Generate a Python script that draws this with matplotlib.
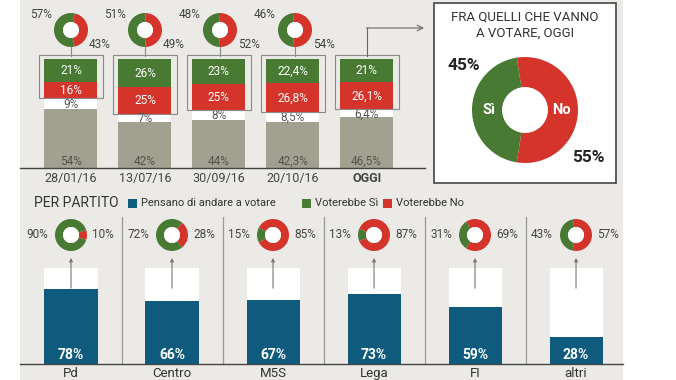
import matplotlib
matplotlib.use('Agg')
import matplotlib.pyplot as plt
from matplotlib.patches import Rectangle, Circle

# ---------------- data ----------------
dates = ['28/01/16', '13/07/16', '30/09/16', '20/10/16', 'OGGI']
non_voters = [54, 42, 44, 42.3, 46.5]      # grey
undecided = [9, 7, 8, 8.5, 6.4]            # white
vote_no = [16, 25, 25, 26.8, 26.1]         # red
vote_yes = [21, 26, 23, 22.4, 21]          # green
donut_yes = [57, 51, 48, 46]
donut_no = [43, 49, 52, 54]
final_yes = 45
final_no = 55

parties = ['Pd', 'Centro', 'M5S', 'Lega', 'FI', 'altri']
turnout = [78, 66, 67, 73, 59, 28]
party_yes = [90, 72, 15, 13, 31, 43]
party_no = [10, 28, 85, 87, 69, 57]

# ---------------- style ----------------
GREEN = '#487a34'
RED = '#d5342b'
GREY = '#a2a091'
BLUE = '#0f5b7d'
BG = '#ebeae6'
TXT = '#444444'
FONT = ['Roboto', 'DejaVu Sans']
plt.rcParams['font.family'] = FONT

W, H = 676, 380
fig = plt.figure(figsize=(W / 100, H / 100), dpi=100)
fig.patch.set_facecolor('white')
fig.patches.append(Rectangle((20 / W, 0), 603 / W, 1, transform=fig.transFigure,
                             facecolor=BG, edgecolor='none', zorder=0))


def px_axes(x0, y0, x1, y1, z=1):
    ax = fig.add_axes([x0 / W, 1 - y1 / H, (x1 - x0) / W, (y1 - y0) / H], zorder=z)
    ax.patch.set_alpha(0)
    return ax


def pixel_layer(z):
    ax = px_axes(0, 0, W, H, z=z)
    ax.set_xlim(0, W)
    ax.set_ylim(H, 0)
    ax.axis('off')
    return ax


def fmt(v):
    return f"{v:g}".replace('.', ',') + '%'


def donut(cx, cy, r, no, yes, width):
    ax = px_axes(cx - r, cy - r, cx + r, cy + r, z=3)
    ax.pie([no, yes], colors=[RED, GREEN], startangle=no / 100 * 180,
           counterclock=False, radius=1,
           wedgeprops=dict(width=width, edgecolor='none'))
    ax.add_patch(Circle((0, 0), 1 - width, facecolor='white', edgecolor='none'))
    ax.set_xlim(-1, 1)
    ax.set_ylim(-1, 1)
    ax.set_aspect('equal')
    ax.axis('off')
    return ax


under = pixel_layer(0.5)   # below everything (big white box)
ov = pixel_layer(5)        # free text on top

# ---------------- top stacked bars ----------------
axt = px_axes(20, 59, 425, 168, z=2)
n = len(dates)
xs = list(range(n))
bw = 0.717
axt.bar(xs, non_voters, width=bw, color=GREY)
b1 = [a for a in non_voters]
axt.bar(xs, undecided, bottom=b1, width=bw, color='white')
b2 = [a + b for a, b in zip(non_voters, undecided)]
axt.bar(xs, vote_no, bottom=b2, width=bw, color=RED)
b3 = [a + b for a, b in zip(b2, vote_no)]
axt.bar(xs, vote_yes, bottom=b3, width=bw, color=GREEN)
axt.set_xlim(-0.69, 4.79)
axt.set_ylim(0, 100)
for s in ['top', 'left', 'right']:
    axt.spines[s].set_visible(False)
axt.spines['bottom'].set_color('#444444')
axt.spines['bottom'].set_linewidth(1)
axt.set_yticks([])
axt.set_xticks(xs)
axt.set_xticklabels(dates)
axt.tick_params(axis='x', length=0, pad=3, labelsize=9, labelcolor=TXT)
for lab in axt.get_xticklabels():
    if lab.get_text() == 'OGGI':
        lab.set_fontweight('bold')

for i in xs:
    axt.text(i, 6, fmt(non_voters[i]), ha='center', va='center', fontsize=8.5, color='#555548')
    axt.text(i, b1[i] + undecided[i] / 2, fmt(undecided[i]), ha='center', va='center',
             fontsize=8.5, color='#555555')
    axt.text(i, b2[i] + vote_no[i] / 2, fmt(vote_no[i]), ha='center', va='center',
             fontsize=8.5, color='white')
    axt.text(i, b3[i] + vote_yes[i] / 2, fmt(vote_yes[i]), ha='center', va='center',
             fontsize=8.5, color='white')
    # frame around yes+no
    axt.add_patch(Rectangle((i - bw / 2 - 0.075, b2[i] + 1), bw + 0.15, 100 + 3.7 - b2[i] - 1,
                            facecolor='none', edgecolor='#8a8a8a', lw=0.8, clip_on=False, zorder=4))

# top donuts
top_cx = [71, 145, 220, 295]
for i in range(len(donut_yes)):
    cx, cy = top_cx[i], 30
    donut(cx, cy, 17, donut_no[i], donut_yes[i], 0.53)
    ov.text(cx - 30, cy - 15, fmt(donut_yes[i]), ha='center', va='center', fontsize=8.5, color=TXT)
    ov.text(cx + 29, cy + 14, fmt(donut_no[i]), ha='center', va='center', fontsize=8.5, color=TXT)
    ov.plot([cx, cx], [47, 55.5], color='#8a8a8a', lw=0.8)

# arrow from OGGI to big box
ov.plot([367, 367], [55.5, 28], color='#666666', lw=0.8)
ov.annotate('', xy=(424, 28), xytext=(366.6, 28),
            arrowprops=dict(arrowstyle='->', color='#666666', lw=0.8, shrinkA=0, shrinkB=0))

# ---------------- big box ----------------
under.add_patch(Rectangle((434, 3), 182, 180, facecolor='white', edgecolor='#444444', lw=1.2))
ov.text(525, 17, 'FRA QUELLI CHE VANNO', ha='center', va='center', fontsize=9.5, color='#333333')
ov.text(525, 33, 'A VOTARE, OGGI', ha='center', va='center', fontsize=9.5, color='#333333')
donut(525, 110, 53, final_no, final_yes, 0.57)
ov.text(464, 66, fmt(final_yes), ha='center', va='center', fontsize=12.5, fontweight='bold', color='#222222')
ov.text(588, 157, fmt(final_no), ha='center', va='center', fontsize=12.5, fontweight='bold', color='#222222')
ov.text(489, 110, 'Sì', ha='center', va='center', fontsize=10.5, fontweight='bold', color='white', zorder=10)
ov.text(561, 110, 'No', ha='center', va='center', fontsize=10.5, fontweight='bold', color='white', zorder=10)

# ---------------- bottom section ----------------
ov.text(34, 203, 'PER PARTITO', ha='left', va='center', fontsize=10, color='#333333')
legend = [(BLUE, 'Pensano di andare a votare', 128), (GREEN, 'Voterebbe Sì', 302),
          (RED, 'Voterebbe No', 383)]
for col, lab, x in legend:
    ov.add_patch(Rectangle((x, 199), 9, 9, facecolor=col, edgecolor='none'))
    ov.text(x + 13, 203.5, lab, ha='left', va='center', fontsize=8, color='#333333')

axb = px_axes(20, 268, 623, 364, z=2)
m = len(parties)
pxs = list(range(m))
pw = 0.525
axb.bar(pxs, [100] * m, width=pw, color='white')
axb.bar(pxs, turnout, width=pw, color=BLUE)
axb.set_xlim(-0.505, 5.465)
axb.set_ylim(0, 100)
for s in ['top', 'left', 'right']:
    axb.spines[s].set_visible(False)
axb.spines['bottom'].set_color('#444444')
axb.spines['bottom'].set_linewidth(1)
axb.set_yticks([])
axb.set_xticks(pxs)
axb.set_xticklabels(parties)
axb.tick_params(axis='x', length=0, pad=2, labelsize=9.5, labelcolor='#333333')
for i in pxs:
    axb.text(i, 9.5, fmt(turnout[i]), ha='center', va='center', fontsize=10,
             fontweight='bold', color='white')
    if i < m - 1:
        axb.plot([i + 0.5, i + 0.5], [0, 153], color='#9a9a9a', lw=0.9, clip_on=False)
    axb.annotate('', xy=(i, 110.5), xytext=(i, 79),
                 arrowprops=dict(arrowstyle='-|>', color='#777777', lw=0.8,
                                 mutation_scale=5, shrinkA=0, shrinkB=0),
                 annotation_clip=False)

bot_cx = [71, 172, 273, 374, 475, 576]
for i in pxs:
    cx, cy = bot_cx[i], 235
    donut(cx, cy, 16, party_no[i], party_yes[i], 0.5)
    ov.text(cx - 34, cy, fmt(party_yes[i]), ha='center', va='center', fontsize=8.5, color=TXT)
    ov.text(cx + 32, cy, fmt(party_no[i]), ha='center', va='center', fontsize=8.5, color=TXT)

fig.savefig('out.png', dpi=100, facecolor='white')
